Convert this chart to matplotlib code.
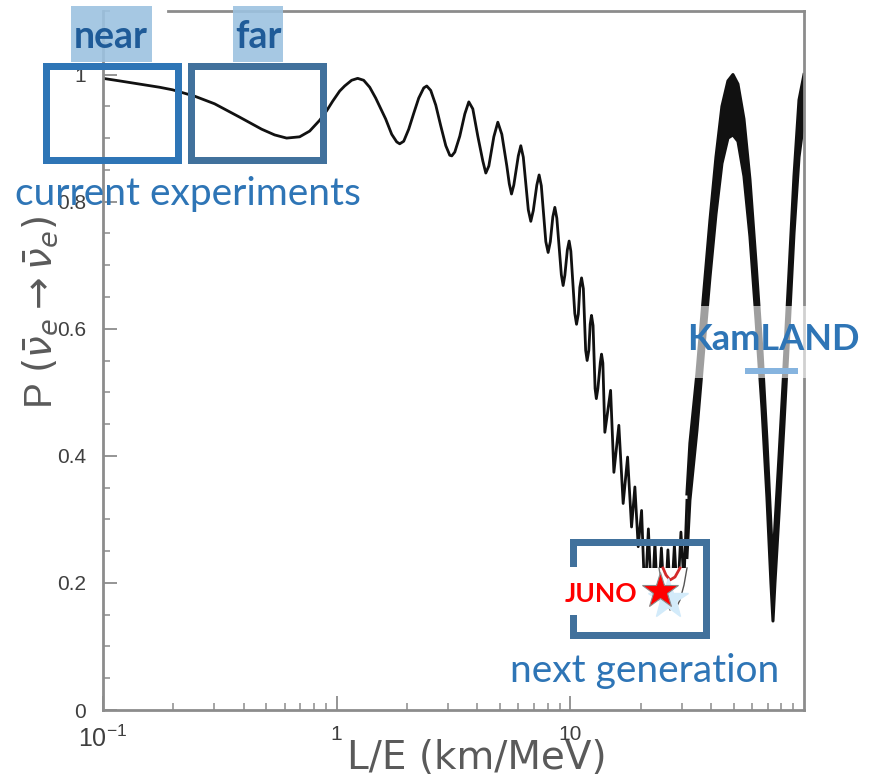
import matplotlib
matplotlib.use("Agg")
import matplotlib.pyplot as plt
from matplotlib.patches import Rectangle
from matplotlib.lines import Line2D

# ---------------- data ----------------
# survival probability curve: slow region + resolved fast oscillations
curve_x = [0.1, 0.1177, 0.1433, 0.1746, 0.1984, 0.2465, 0.3002, 0.3842, 0.4775, 0.5426,
           0.6107, 0.6942, 0.7663, 0.8456, 0.9062, 0.9613, 1.030, 1.082, 1.159, 1.230,
           1.305, 1.385, 1.469, 1.621, 1.720, 1.807, 1.861, 1.936, 2.034, 2.137,
           2.245, 2.359, 2.430, 2.527, 2.655, 2.790, 2.931, 3.048, 3.109, 3.203,
           3.364, 3.535, 3.677, 3.825, 4.018, 4.221, 4.348, 4.479, 4.705, 4.894,
           5.091, 5.349, 5.480, 5.601, 5.729, 5.989, 6.138, 6.291, 6.609, 6.774,
           6.943, 7.187, 7.352, 7.513, 7.854, 8.035, 8.211, 8.415, 8.584, 8.754,
           9.152, 9.315, 9.474, 9.710, 9.883, 10.05, 10.45, 10.63, 10.82, 10.98,
           11.17, 11.37, 11.63, 11.80, 12.00, 12.16, 12.32, 12.51, 12.76, 12.92,
           13.12, 13.44, 13.60, 13.78, 14.05, 14.87, 15.36, 16.13, 16.83, 17.58,
           18.28, 18.89, 19.52, 20.18, 20.85, 21.58, 22.34, 23.01, 23.70, 24.53,
           25.39, 26.16, 26.94, 27.89, 28.73, 29.74, 30.63, 31.55]
curve_p = [0.994, 0.990, 0.985, 0.980, 0.976, 0.966, 0.954, 0.933, 0.914, 0.905,
           0.900, 0.902, 0.911, 0.928, 0.943, 0.958, 0.974, 0.982, 0.991, 0.994,
           0.991, 0.980, 0.963, 0.930, 0.906, 0.894, 0.891, 0.895, 0.914, 0.939,
           0.963, 0.979, 0.982, 0.975, 0.952, 0.919, 0.888, 0.873, 0.872, 0.878,
           0.903, 0.938, 0.957, 0.946, 0.903, 0.864, 0.845, 0.856, 0.902, 0.925,
           0.906, 0.856, 0.828, 0.812, 0.826, 0.872, 0.888, 0.870, 0.787, 0.769,
           0.786, 0.826, 0.842, 0.825, 0.737, 0.720, 0.737, 0.776, 0.791, 0.774,
           0.685, 0.668, 0.684, 0.724, 0.738, 0.722, 0.624, 0.607, 0.623, 0.665,
           0.680, 0.663, 0.566, 0.550, 0.566, 0.607, 0.621, 0.605, 0.506, 0.490,
           0.506, 0.547, 0.560, 0.546, 0.437, 0.503, 0.374, 0.448, 0.325, 0.398,
           0.288, 0.351, 0.257, 0.314, 0.170, 0.285, 0.160, 0.265, 0.155, 0.255,
           0.155, 0.252, 0.160, 0.260, 0.170, 0.280, 0.200, 0.330]

# unresolved fast oscillations at large L/E: upper / lower envelope of the band
band_x = [31.55, 32.49, 34.82, 37.29, 39.57, 42.0, 44.55, 47.26, 49.65, 52.16,
          55.34, 58.7, 62.3, 66.1, 69.4, 72.2, 73.66, 75.1, 78.2, 82.1,
          86.3, 90.6, 95.2, 100.0]
band_hi = [0.34, 0.42, 0.53, 0.66, 0.77, 0.87, 0.95, 0.99, 1.0, 0.985,
           0.93, 0.835, 0.705, 0.565, 0.425, 0.29, 0.23, 0.29, 0.40, 0.54,
           0.69, 0.84, 0.96, 1.0]
band_lo = [0.24, 0.33, 0.44, 0.57, 0.68, 0.78, 0.86, 0.90, 0.905, 0.895,
           0.84, 0.745, 0.615, 0.475, 0.335, 0.20, 0.14, 0.20, 0.31, 0.45,
           0.60, 0.75, 0.87, 0.93]

ytick_vals = [0, 0.2, 0.4, 0.6, 0.8, 1.0]
ytick_labels = ["0", "0.2", "0.4", "0.6", "0.8", "1"]
xtick_vals = [0.1, 1, 10]
xtick_labels = [r"$\mathregular{10^{-1}}$", "1", "10"]

# ---------------- figure ----------------
W, H = 869, 778
fig = plt.figure(figsize=(W / 100, H / 100), dpi=100)
fig.patch.set_facecolor("white")


def fx(px):
    return px / W


def fy(py):
    return 1 - py / H


ax = fig.add_axes([fx(103), fy(710), (804 - 103) / W, (710 - 11) / H])
ax.set_xscale("log")
ax.set_xlim(0.1, 100)
ax.set_ylim(0, 1.1)

AXC = "#8c8c8c"
TXC = "#3f3f3f"
for s in ["left", "bottom", "right"]:
    ax.spines[s].set_color(AXC)
    ax.spines[s].set_linewidth(2.0)
ax.spines["top"].set_visible(False)
ax.add_line(Line2D([(168 - 103) / 701, 1], [1, 1], transform=ax.transAxes,
                   color=AXC, lw=2.0, clip_on=False))

ax.set_yticks(ytick_vals)
ax.set_yticklabels(ytick_labels)
ax.set_yticks([i * 0.05 for i in range(23)], minor=True)
ax.set_xticks(xtick_vals)
ax.set_xticklabels(xtick_labels)
ax.set_xticks([m * d for d in (0.1, 1, 10) for m in range(2, 10)], minor=True)
ax.tick_params(axis="both", which="major", direction="in", length=10, width=1.3,
               color=AXC, labelcolor=TXC, labelsize=15)
ax.tick_params(axis="both", which="minor", direction="in", length=5, width=1.1,
               color=AXC)
ax.tick_params(axis="y", which="major", pad=12)
ax.tick_params(axis="x", which="major", pad=11)
for t in ax.get_xticklabels() + ax.get_yticklabels():
    t.set_fontfamily(["Liberation Sans", "DejaVu Sans"])
ax.get_xticklabels()[0].set_fontsize(18)

ax.set_xlabel("L/E (km/MeV)", fontsize=28, color="#5a5a5a",
              fontfamily=["DejaVu Sans"], va="baseline")
ax.xaxis.set_label_coords((477 - 103) / 701, (710 - 769) / 699)
ax.set_ylabel(r"P $(\bar{\nu}_e \rightarrow \bar{\nu}_e)$", fontsize=28, color="#5a5a5a",
              fontfamily=["Liberation Sans", "DejaVu Sans"], va="center", ha="center")
ax.yaxis.set_label_coords((40 - 103) / 701, (710 - 312) / 699)

# ---------------- curve ----------------
LC = "#111111"
ax.plot(curve_x, curve_p, color=LC, lw=2.0, solid_joinstyle="round", zorder=2)
ax.fill_between(band_x, band_lo, band_hi, color=LC, lw=0, zorder=2)
ax.plot(band_x, band_hi, color=LC, lw=2.2, zorder=2)
ax.plot(band_x, band_lo, color=LC, lw=2.2, zorder=2)


# ---------------- annotations (figure pixel helpers) ----------------
def rect(x0, y0, x1, y1, z=5, **kw):
    r = Rectangle((fx(x0), fy(y1)), fx(x1) - fx(x0), fy(y0) - fy(y1),
                  transform=fig.transFigure, clip_on=False, zorder=z, **kw)
    ax.add_patch(r)
    return r


def frame(x0, y0, x1, y1, t, color, z=5):
    h = t / 2
    rect(x0 + h, y0 + h, x1 - h, y1 - h, z=z, fill=False, edgecolor=color,
         lw=t * 0.72, joinstyle="miter")


def label(px, py, s, **kw):
    ax.text(fx(px), fy(py), s, transform=fig.transFigure, clip_on=False, **kw)


BLUE = "#2e75b6"
STEEL = "#41719c"

# near / far boxes and their labels
frame(42, 62, 181, 163, 7, BLUE)
frame(187, 62, 326, 163, 7, STEEL)
rect(71, 6, 152, 62, z=6, facecolor="#9cc2e0", edgecolor="none", alpha=0.9)
rect(233, 6, 283, 62, z=6, facecolor="#9cc2e0", edgecolor="none", alpha=0.9)
label(111, 48, "near", fontsize=27, fontweight="bold", color="#1f5b98",
      fontfamily="Lato", ha="center", va="baseline", zorder=7)
label(258, 48, "far", fontsize=27, fontweight="bold", color="#1f5b98",
      fontfamily="Lato", ha="center", va="baseline", zorder=7)
label(15, 205, "current experiments", fontsize=28, color=BLUE,
      fontfamily="Lato", ha="left", va="baseline", zorder=7)

# KamLAND
rect(686, 306, 860, 378, z=3, facecolor="white", edgecolor="none", alpha=0.6)
label(687, 350, "KamLAND", fontsize=26, fontweight="bold", color=BLUE,
      fontfamily="Lato", ha="left", va="baseline", zorder=7)
rect(745, 368, 798, 374, z=6, facecolor="#86b4df", edgecolor="none")

# JUNO / next generation
rect(633, 568, 690, 632, z=3, facecolor="white", edgecolor="none")
ax.add_line(Line2D([fx(659), fx(662), fx(666), fx(670)], [fy(568), fy(585), fy(600), fy(610)],
                   transform=fig.transFigure, color="#777777", lw=1.0, zorder=4, clip_on=False))
ax.add_line(Line2D([fx(687), fx(684), fx(680), fx(676)], [fy(568), fy(585), fy(600), fy(608)],
                   transform=fig.transFigure, color="#555555", lw=1.0, zorder=4, clip_on=False))
ax.add_line(Line2D([fx(663), fx(666), fx(670), fx(675), fx(680)],
                   [fy(568), fy(575), fy(580), fy(577), fy(568)],
                   transform=fig.transFigure, color="#d42a2a", lw=2.0, zorder=4, clip_on=False))
ax.add_line(Line2D([fx(668)], [fy(599)], transform=fig.transFigure, marker="*",
                   markersize=30, color="#d3ebfa", markeredgecolor="#d3ebfa",
                   zorder=4, clip_on=False))
frame(569, 538, 709, 638, 7, STEEL)
rect(562, 567, 640, 615, z=5.5, facecolor="white", edgecolor="none")
ax.add_line(Line2D([fx(660)], [fy(591)], transform=fig.transFigure, marker="*",
                   markersize=27, color="#ff0000", markeredgecolor="#8a8a8a",
                   markeredgewidth=0.8, zorder=6, clip_on=False))
label(565, 602, "JUNO", fontsize=19, fontweight="bold", color="#ff0000",
      fontfamily="Lato", ha="left", va="baseline", zorder=7)
label(510, 682, "next generation", fontsize=28, color=BLUE,
      fontfamily="Lato", ha="left", va="baseline", zorder=7)

fig.savefig("out.png", dpi=100, facecolor="white")
